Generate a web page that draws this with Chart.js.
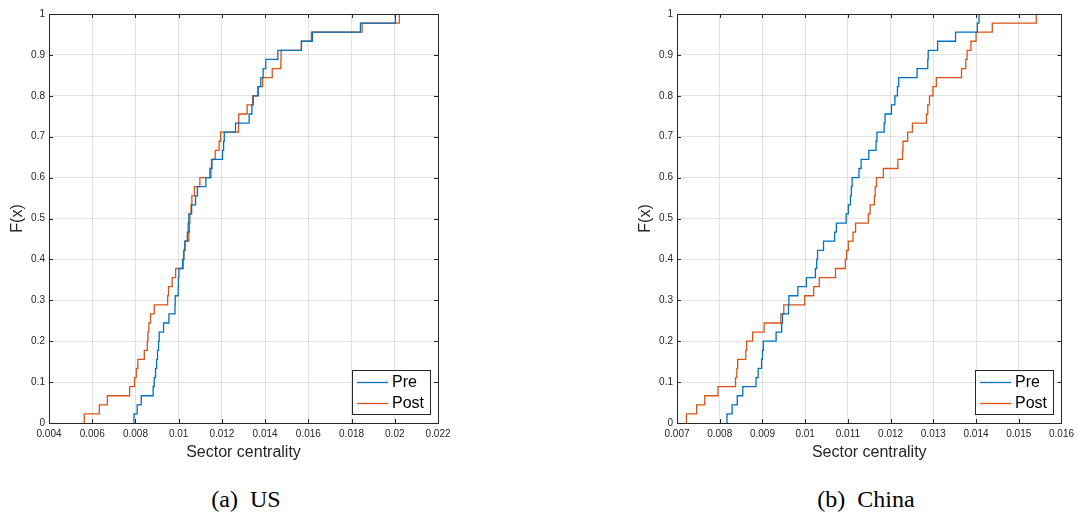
<!DOCTYPE html>
<html>
<head>
<meta charset="utf-8">
<script src="https://cdn.jsdelivr.net/npm/chart.js@4.4.1/dist/chart.umd.min.js"></script>
<style>
  html, body { margin: 0; padding: 0; background: #fff; overflow: hidden; }
  body { width: 1079px; height: 517px; position: relative; }
  .panel { position: absolute; top: 0; }
  .caption {
    position: absolute; top: 484px; transform: translateX(-50%);
    font-family: "Liberation Serif", "DejaVu Serif", serif; font-size: 24px;
    color: #000; white-space: nowrap; line-height: 30px;
  }
</style>
</head>
<body>
<div class="panel" style="left:0px"><canvas id="chartUS" width="460" height="470"></canvas></div>
<div class="panel" style="left:628px"><canvas id="chartCN" width="451" height="470"></canvas></div>
<div class="caption" style="left:246px">(a)&nbsp; US</div>
<div class="caption" style="left:866px">(b)&nbsp; China</div>
<script>
// sorted sector centrality samples
const usPre = [0.00793, 0.00808, 0.00827, 0.00882, 0.00887, 0.00893, 0.00898, 0.00902, 0.00907, 0.00910,
  0.00930, 0.00955, 0.00983, 0.00984, 0.00998, 0.00999, 0.01001, 0.01018, 0.01024, 0.01029,
  0.01040, 0.01044, 0.01047, 0.01060, 0.01078, 0.01087, 0.01126, 0.01149, 0.01154, 0.01203,
  0.01208, 0.01211, 0.01263, 0.01326, 0.01339, 0.01345, 0.01368, 0.01380, 0.01391, 0.01403,
  0.01459, 0.01568, 0.01619, 0.01841, 0.02003];
const usPost = [0.00563, 0.00633, 0.00670, 0.00773, 0.00796, 0.00804, 0.00811, 0.00841, 0.00855, 0.00858,
  0.00862, 0.00870, 0.00887, 0.00949, 0.00953, 0.00970, 0.00986, 0.01021, 0.01024, 0.01029,
  0.01047, 0.01050, 0.01052, 0.01057, 0.01061, 0.01073, 0.01098, 0.01144, 0.01152, 0.01169,
  0.01187, 0.01194, 0.01277, 0.01278, 0.01317, 0.01342, 0.01366, 0.01389, 0.01433, 0.01473,
  0.01474, 0.01568, 0.01614, 0.01849, 0.02021];
const cnPre = [0.00817, 0.00829, 0.00841, 0.00854, 0.00885, 0.00890, 0.00898, 0.00900, 0.00902, 0.00932,
  0.00945, 0.00947, 0.00961, 0.00962, 0.00983, 0.01003, 0.01024, 0.01027, 0.01029, 0.01043,
  0.01069, 0.01073, 0.01096, 0.01101, 0.01106, 0.01108, 0.01110, 0.01126, 0.01131, 0.01149,
  0.01166, 0.01168, 0.01185, 0.01187, 0.01202, 0.01210, 0.01216, 0.01219, 0.01262, 0.01287,
  0.01288, 0.01310, 0.01352, 0.01403, 0.01407];
const cnPost = [0.00722, 0.00746, 0.00765, 0.00796, 0.00837, 0.00840, 0.00842, 0.00861, 0.00863, 0.00877,
  0.00904, 0.00943, 0.00950, 0.00999, 0.01020, 0.01033, 0.01071, 0.01094, 0.01097, 0.01101,
  0.01112, 0.01118, 0.01148, 0.01152, 0.01162, 0.01164, 0.01167, 0.01183, 0.01217, 0.01228,
  0.01229, 0.01240, 0.01251, 0.01284, 0.01287, 0.01291, 0.01299, 0.01307, 0.01366, 0.01376,
  0.01379, 0.01388, 0.01400, 0.01438, 0.01541];

const seriesNames = ['Pre', 'Post'];
const usXTicks = [0.004, 0.022, 0.002];   // min, max, step
const cnXTicks = [0.007, 0.016, 0.001];
const yTicks = [0, 1, 0.1];

const PRE_COLOR = '#0072BD';
const POST_COLOR = '#D95319';
const AXIS_COLOR = '#262626';
const GRID_COLOR = 'rgba(38,38,38,0.13)';
const FONT = '"Liberation Sans", Arial, Helvetica, sans-serif';

// empirical cdf: start at 0, climb 1/n at every sample
function ecdfPoints(sample) {
    const n = sample.length;
    const pts = [{ x: sample[0], y: 0 }];
    sample.forEach((v, i) => pts.push({ x: v, y: (i + 1) / n }));
    return pts;
}

// matlab style box with inward ticks on all four sides
const boxPlugin = {
    id: 'matlabBox',
    afterDatasetsDraw(chart) {
        const { ctx, chartArea: a, scales } = chart;
        const len = 4;
        ctx.save();
        ctx.strokeStyle = AXIS_COLOR;
        ctx.lineWidth = 1;
        ctx.beginPath();
        scales.x.ticks.forEach(t => {
            const px = Math.round(scales.x.getPixelForValue(t.value)) + 0.5;
            ctx.moveTo(px, a.bottom); ctx.lineTo(px, a.bottom - len);
            ctx.moveTo(px, a.top); ctx.lineTo(px, a.top + len);
        });
        scales.y.ticks.forEach(t => {
            const py = Math.round(scales.y.getPixelForValue(t.value)) + 0.5;
            ctx.moveTo(a.left, py); ctx.lineTo(a.left + len, py);
            ctx.moveTo(a.right, py); ctx.lineTo(a.right - len, py);
        });
        ctx.stroke();
        ctx.strokeRect(Math.round(a.left) + 0.5, Math.round(a.top) + 0.5,
            Math.round(a.right - a.left), Math.round(a.bottom - a.top));
        ctx.restore();
    },
    afterDraw(chart) {
        // legend in the lower right corner
        const { ctx, chartArea: a } = chart;
        const w = 78, h = 44;
        const x0 = Math.round(a.right) - 8 - w, y0 = Math.round(a.bottom) - 9 - h;
        ctx.save();
        ctx.fillStyle = '#fff';
        ctx.fillRect(x0, y0, w, h);
        ctx.strokeStyle = AXIS_COLOR;
        ctx.lineWidth = 1;
        ctx.strokeRect(x0 + 0.5, y0 + 0.5, w, h);
        ctx.font = '16px ' + FONT;
        ctx.textBaseline = 'middle';
        chart.data.datasets.forEach((ds, i) => {
            const yy = y0 + 12 + i * 21;
            ctx.strokeStyle = ds.borderColor;
            ctx.lineWidth = 1.3;
            ctx.beginPath();
            ctx.moveTo(x0 + 5, yy + 0.5); ctx.lineTo(x0 + 36, yy + 0.5);
            ctx.stroke();
            ctx.fillStyle = '#000';
            ctx.fillText(ds.label, x0 + 40, yy + 1);
        });
        ctx.restore();
    }
};

function makeChart(id, pre, post, xTicks, rightPad) {
    const ctx = document.getElementById(id).getContext('2d');
    return new Chart(ctx, {
        type: 'line',
        data: {
            datasets: [
                { label: seriesNames[0], data: ecdfPoints(pre), borderColor: PRE_COLOR },
                { label: seriesNames[1], data: ecdfPoints(post), borderColor: POST_COLOR }
            ].map(ds => Object.assign(ds, {
                stepped: 'before', pointRadius: 0, borderWidth: 1.3, fill: false, tension: 0
            }))
        },
        options: {
            responsive: false,
            animation: false,
            events: [],
            layout: { padding: { left: 0, top: 14, right: rightPad, bottom: 0 } },
            plugins: { legend: { display: false }, tooltip: { enabled: false } },
            scales: {
                x: {
                    type: 'linear',
                    min: xTicks[0], max: xTicks[1],
                    afterFit: s => { s.height = 47; },
                    border: { display: false },
                    grid: { color: GRID_COLOR, drawTicks: false },
                    ticks: {
                        stepSize: xTicks[2], padding: 5, maxRotation: 0, autoSkip: false,
                        color: AXIS_COLOR, font: { family: FONT, size: 10 },
                        callback: v => String(+v.toFixed(3))
                    },
                    title: {
                        display: true, text: 'Sector centrality', color: AXIS_COLOR,
                        font: { family: FONT, size: 16 }, padding: { top: 0, bottom: 8 }
                    }
                },
                y: {
                    min: yTicks[0], max: yTicks[1],
                    afterFit: s => { s.width = 49; },
                    border: { display: false },
                    grid: { color: GRID_COLOR, drawTicks: false },
                    ticks: {
                        stepSize: yTicks[2], padding: 4,
                        color: AXIS_COLOR, font: { family: FONT, size: 10 },
                        callback: v => String(+v.toFixed(1))
                    },
                    title: {
                        display: true, text: 'F(x)', color: AXIS_COLOR,
                        font: { family: FONT, size: 16 }, padding: { top: 8, bottom: 0 }
                    }
                }
            }
        },
        plugins: [boxPlugin]
    });
}

makeChart('chartUS', usPre, usPost, usXTicks, 22);
makeChart('chartCN', cnPre, cnPost, cnXTicks, 13);
</script>
</body>
</html>
